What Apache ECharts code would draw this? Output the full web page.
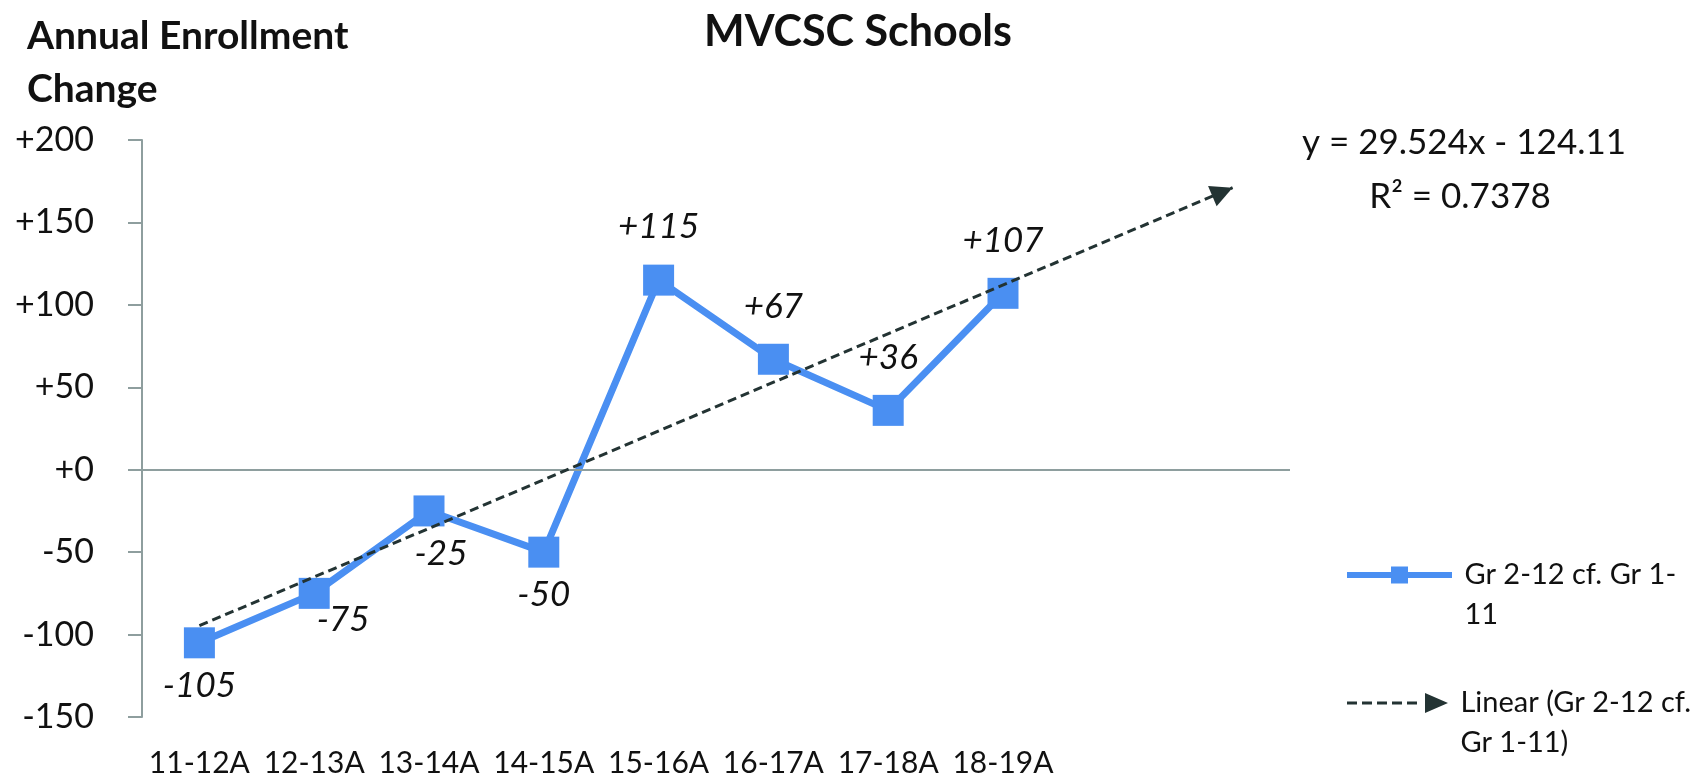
<!DOCTYPE html>
<html>
<head>
<meta charset="utf-8">
<script src="https://cdn.jsdelivr.net/npm/echarts@6/dist/echarts.min.js"></script>
<style>
  html, body { margin: 0; padding: 0; background: #fff; }
  #chart { width: 1694px; height: 778px; }
</style>
</head>
<body>
<div id="chart"></div>
<script>
// school years on the category axis
let categories = ["11-12A", "12-13A", "13-14A", "14-15A", "15-16A", "16-17A", "17-18A", "18-19A"];
// trendline forecasts two periods forward, so two blank slots on the axis
let forecastSlots = ["", ""];
// annual enrollment change, Gr 2-12 cf. Gr 1-11
let changeValues = [-105, -75, -25, -50, 115, 67, 36, 107];
// linear trendline end points (first year, end of forecast)
let trendIndex = [0, 9];
let trendValues = [-94.6, 171.1];
let yTicks = { min: -150, max: 200, step: 50 };

let seriesName = "Gr 2-12 cf. Gr 1-11";
let trendName = "Linear (Gr 2-12 cf. Gr 1-11)";

let font = "Lato, 'Noto Sans', sans-serif";
let blue = "#4a8ff2";
let dark = "#233333";
let axisGray = "#8e9e9e";

function signed(v) {
  return v >= 0 ? "+" + v : String(v);
}

let pointData = changeValues.map(function (v, i) {
  let label = v >= 0
    ? { position: "top", distance: 20 }
    : { position: "bottom", distance: 10 };
  if (i === 1) label.offset = [29, -17];
  if (i === 2) label.offset = [12, 0];
  return { value: v, label: label };
});

// legend text: blank first line keeps the icon level with the first text line
let legendText = { fontFamily: font, fontSize: 29, color: "#111", lineHeight: 40 };

let dom = echarts.init(document.getElementById("chart"));
dom.setOption({
  animation: false,
  backgroundColor: "#fff",
  textStyle: { fontFamily: font },
  title: {
    text: "MVCSC Schools",
    left: 853,
    top: 6,
    textAlign: "center",
    textStyle: { fontFamily: font, fontWeight: "bold", fontSize: 43, color: "#111" }
  },
  graphic: [
    {
      type: "text",
      left: 27,
      top: 10,
      style: {
        text: "Annual Enrollment\nChange",
        font: "bold 39px " + font,
        lineHeight: 53,
        fill: "#111"
      }
    },
    {
      type: "text",
      style: {
        x: 1464, y: 143,
        text: "y = 29.524x - 124.11",
        textAlign: "center",
        textVerticalAlign: "middle",
        font: "35px " + font,
        fill: "#111"
      }
    },
    {
      type: "text",
      style: {
        x: 1460, y: 197,
        text: "R² = 0.7378",
        textAlign: "center",
        textVerticalAlign: "middle",
        font: "35px " + font,
        fill: "#111"
      }
    }
  ],
  legend: [
    {
      data: [seriesName],
      left: 1342,
      top: 510,
      itemWidth: 105,
      itemHeight: 17,
      itemGap: 0,
      icon: "path://M0 5.5h105v6h-105z M44 0h17v17h-17z",
      formatter: function () { return "\n Gr 2-12 cf. Gr 1-\n 11"; },
      textStyle: legendText
    },
    {
      data: [trendName],
      left: 1342,
      top: 638,
      itemWidth: 101,
      itemHeight: 20,
      itemGap: 0,
      icon: "path://M0 8.5h10v3h-10z M15 8.5h10v3h-10z M30 8.5h10v3h-10z M45 8.5h10v3h-10z M60 8.5h10v3h-10z M78 0L101 10L78 20z",
      formatter: function () { return "\n Linear (Gr 2-12 cf.\n Gr 1-11)"; },
      textStyle: legendText
    }
  ],
  grid: { left: 142, right: 404, top: 140, bottom: 61 },
  xAxis: {
    type: "category",
    data: categories.concat(forecastSlots),
    boundaryGap: true,
    axisLine: { show: false },
    axisTick: { show: false },
    axisLabel: { interval: 0, margin: 31, fontFamily: font, fontSize: 30, color: "#111" }
  },
  yAxis: {
    type: "value",
    min: yTicks.min,
    max: yTicks.max,
    interval: yTicks.step,
    axisLine: { show: true, lineStyle: { color: axisGray, width: 2 } },
    axisTick: { show: true, length: 14, lineStyle: { color: axisGray, width: 2 } },
    splitLine: { show: false },
    axisLabel: {
      margin: 48,
      fontFamily: font,
      fontSize: 34,
      color: "#111",
      formatter: signed
    }
  },
  series: [
    {
      name: seriesName,
      type: "line",
      data: pointData,
      color: blue,
      symbol: "rect",
      symbolSize: 31,
      lineStyle: { width: 7, color: blue },
      itemStyle: { color: blue },
      label: {
        show: true,
        fontFamily: font,
        fontStyle: "italic",
        fontSize: 35,
        color: "#111",
        formatter: function (p) { return signed(p.value); }
      },
      markLine: {
        silent: true,
        symbol: "none",
        label: { show: false },
        lineStyle: { color: axisGray, width: 2, type: "solid" },
        data: [{ yAxis: 0 }]
      },
      z: 3
    },
    {
      name: trendName,
      type: "line",
      data: [],
      color: dark,
      itemStyle: { color: dark },
      markLine: {
        silent: true,
        symbol: ["none", "triangle"],
        symbolSize: [22, 22],
        symbolOffset: [0, [0, 11]],
        label: { show: false },
        lineStyle: { color: dark, width: 3, type: [9, 5] },
        data: [[
          { coord: [trendIndex[0], trendValues[0]] },
          { coord: [trendIndex[1], trendValues[1]] }
        ]]
      },
      z: 4
    }
  ]
});
dom.resize();
</script>
</body>
</html>
